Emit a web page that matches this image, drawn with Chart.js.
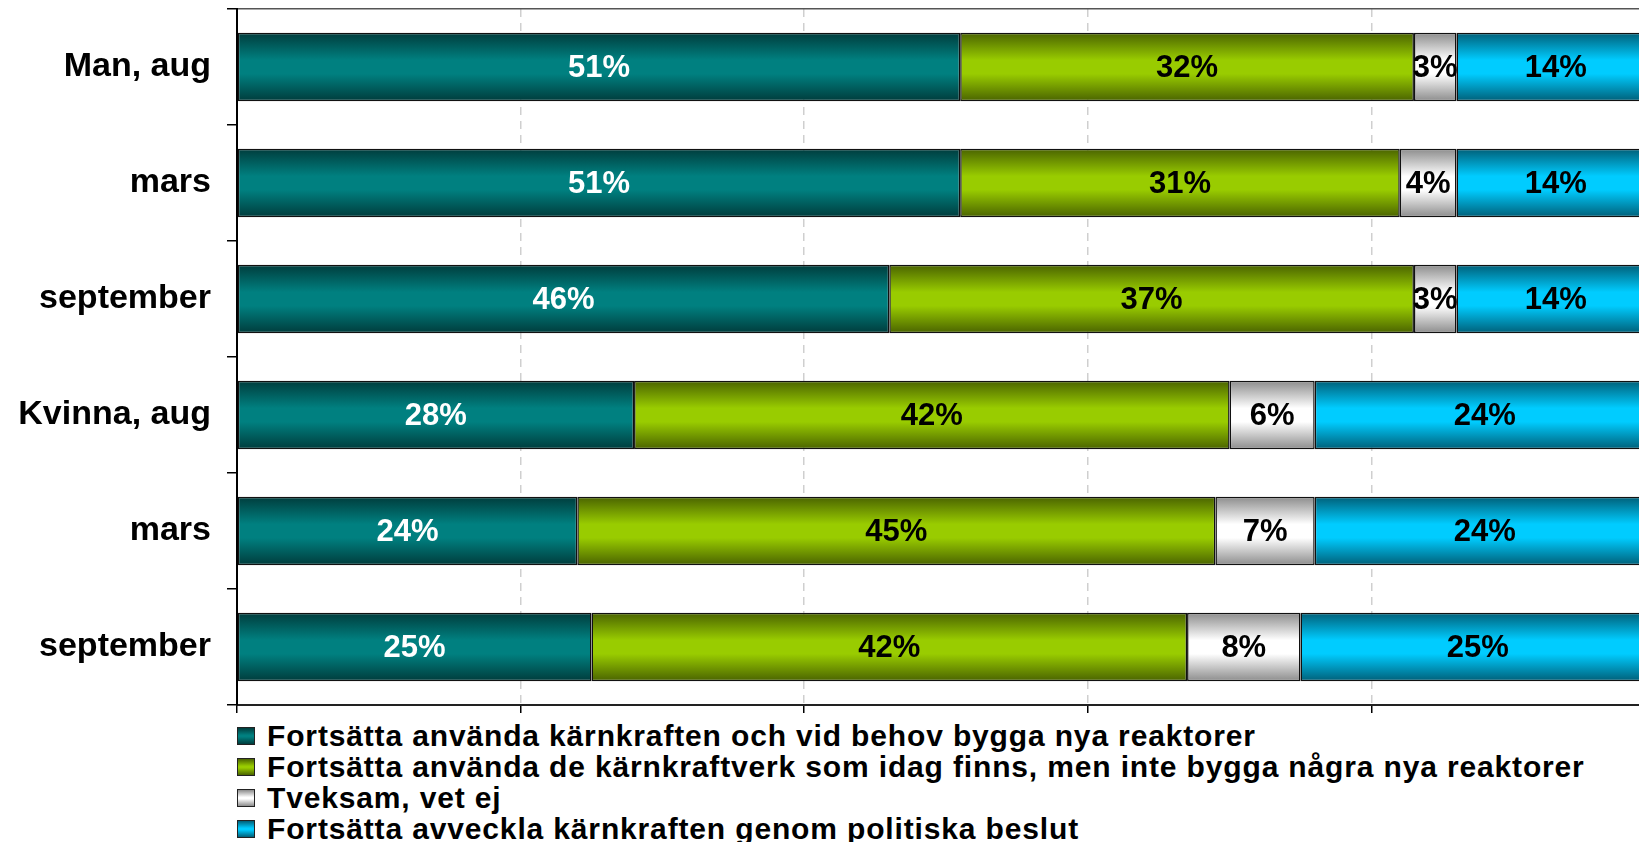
<!DOCTYPE html>
<html>
<head>
<meta charset="utf-8">
<script src="https://cdn.jsdelivr.net/npm/chart.js@4/dist/chart.umd.min.js"></script>
<style>
  body { margin: 0; background: #fff; overflow: hidden; font-family: "Liberation Sans", Arial, sans-serif; }
  #wrap { position: relative; width: 1655px; height: 713px; }
  #legend { margin: 7px 0 0 237px; font-weight: bold; font-size: 30px; letter-spacing: 0.85px; line-height: 31px; color: #000; white-space: nowrap; }
  #legend div { display: flex; align-items: center; }
  #legend span.box { display: inline-block; width: 16px; height: 16px; border: 1px solid #222; margin-right: 12px; }
</style>
</head>
<body>
<div id="wrap"><canvas id="grafik"></canvas></div>
<div id="legend"></div>
<script>
const kategorier = ["Man, aug", "mars", "september", "Kvinna, aug", "mars", "september"];

const byggaNya = [51, 51, 46, 28, 24, 25];
const behalla = [32, 31, 37, 42, 45, 42];
const tveksam = [3, 4, 3, 6, 7, 8];
const avveckla = [14, 14, 14, 24, 24, 25];

const serieNamn = [
    "Fortsätta använda kärnkraften och vid behov bygga nya reaktorer",
    "Fortsätta använda de kärnkraftverk som idag finns, men inte bygga några nya reaktorer",
    "Tveksam, vet ej",
    "Fortsätta avveckla kärnkraften genom politiska beslut"
];

// mitt / kant-färg för gradienten
const farger = [
    { mid: "#008080", kant: "#003c3c", text: "#fff" },
    { mid: "#99cc00", kant: "#4a6300", text: "#000" },
    { mid: "#ffffff", kant: "#8c8c8c", text: "#000" },
    { mid: "#00ccff", kant: "#005f78", text: "#000" }
];

const barPct = 0.59;

function gradient(f) {
    return function (ctx) {
        const chart = ctx.chart;
        const ys = chart.scales && chart.scales.y;
        if (!ys || ctx.type !== "data") return f.mid;
        const yc = ys.getPixelForValue(ctx.dataIndex);
        const half = ys.height / kategorier.length * barPct / 2;
        if (!isFinite(yc) || !isFinite(half) || half <= 0) return f.mid;
        const g = chart.ctx.createLinearGradient(0, yc - half, 0, yc + half);
        g.addColorStop(0, f.kant);
        g.addColorStop(0.4, f.mid);
        g.addColorStop(0.6, f.mid);
        g.addColorStop(1, f.kant);
        return g;
    };
}

const serier = [byggaNya, behalla, tveksam, avveckla];

const etiketter = {
    id: "etiketter",
    afterDatasetsDraw(chart) {
        const ctx = chart.ctx;
        ctx.save();
        ctx.font = "bold 31px 'Liberation Sans', Arial, sans-serif";
        ctx.textAlign = "center";
        ctx.textBaseline = "middle";
        chart.data.datasets.forEach((ds, i) => {
            const meta = chart.getDatasetMeta(i);
            ctx.fillStyle = farger[i].text;
            meta.data.forEach((el, j) => {
                const x = (el.x + el.base) / 2;
                ctx.fillText(ds.data[j] + "%", x, el.y + 1);
            });
        });
        ctx.restore();
    }
};

const chart = new Chart(document.getElementById("grafik"), {
    type: "bar",
    data: {
        labels: kategorier,
        datasets: serier.map((d, i) => ({
            label: serieNamn[i],
            data: d,
            backgroundColor: gradient(farger[i]),
            borderColor: "#111",
            borderWidth: 1.5,
            borderSkipped: false,
            barPercentage: barPct,
            categoryPercentage: 1
        }))
    },
    options: {
        indexAxis: "y",
        responsive: true,
        maintainAspectRatio: false,
        animation: false,
        layout: { padding: { top: 9, left: 0, right: 0, bottom: 0 } },
        plugins: { legend: { display: false }, tooltip: { enabled: false } },
        scales: {
            x: {
                stacked: true,
                min: 0,
                max: 100,
                ticks: { stepSize: 20, display: false },
                grid: { color: "#cfcfcf", lineWidth: 1.5, tickColor: "#000", tickLength: 8, tickWidth: 1.5 },
                border: { color: "#222", width: 2, dash: [8, 6] }
            },
            y: {
                stacked: true,
                afterFit(s) {
                    s.width = 237;
                    s.paddingTop = 0;
                    s.paddingBottom = 0;
                },
                ticks: {
                    color: "#000",
                    padding: 16,
                    font: { family: "'Liberation Sans', Arial, sans-serif", size: 34, weight: "bold" }
                },
                grid: {
                    drawOnChartArea: true,
                    color: (c) => (c.index === 0 ? "#555" : "rgba(0,0,0,0)"),
                    lineWidth: 1.5,
                    tickColor: "#000",
                    tickLength: 10,
                    tickWidth: 1.5
                },
                border: { color: "#000", width: 2 }
            }
        }
    },
    plugins: [etiketter]
});

// legend som html
const legend = document.getElementById("legend");
chart.data.datasets.forEach((ds, i) => {
    const rad = document.createElement("div");
    const box = document.createElement("span");
    box.className = "box";
    box.style.background = "linear-gradient(" + farger[i].kant + "," + farger[i].mid + " 45%," + farger[i].mid + " 55%," + farger[i].kant + ")";
    rad.appendChild(box);
    rad.appendChild(document.createTextNode(ds.label));
    legend.appendChild(rad);
});
</script>
</body>
</html>
